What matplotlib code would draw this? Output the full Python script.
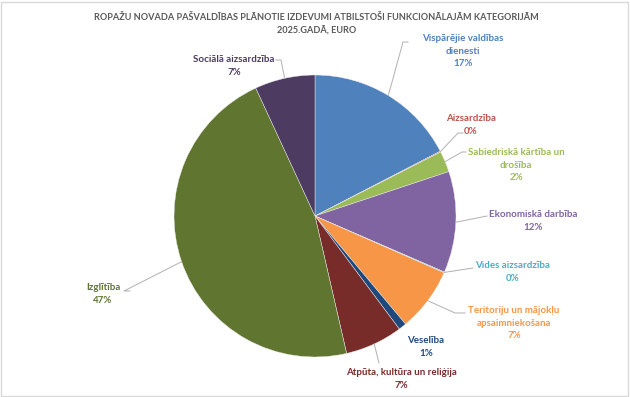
import matplotlib
matplotlib.use('Agg')
import matplotlib.pyplot as plt
from matplotlib.patches import Rectangle
import numpy as np

plt.rcParams['font.family'] = ['Lato', 'DejaVu Sans']

title = 'ROPAŽU NOVADA PAŠVALDĪBAS PLĀNOTIE IZDEVUMI ATBILSTOŠI FUNKCIONĀLAJĀM KATEGORIJĀM\n2025.GADĀ, EURO'

categories = ['Vispārējie valdības\ndienesti', 'Aizsardzība', 'Sabiedriskā kārtība un\ndrošība',
              'Ekonomiskā darbība', 'Vides aizsardzība', 'Teritoriju un mājokļu\napsaimniekošana',
              'Veselība', 'Atpūta, kultūra un reliģija', 'Izglītība', 'Sociālā aizsardzība']
# shares (percent of total)
shares = [17.4, 0.1, 2.4, 11.6, 0.1, 7.3, 0.9, 6.6, 46.7, 6.9]
pct_labels = ['17%', '0%', '2%', '12%', '0%', '7%', '1%', '7%', '47%', '7%']
colors = ['#4F81BD', '#C0504D', '#9BBB59', '#8064A2', '#4BACC6',
          '#F79646', '#1F497D', '#772C2A', '#5F7530', '#4D3B62']

W, H = 630, 397
fig = plt.figure(figsize=(W / 100, H / 100), dpi=100)
ax = fig.add_axes([0, 0, 1, 1])

cx, cy, r = 315, 216, 141


def py(y):
    return H - y


wedges, _ = ax.pie(shares, colors=colors, startangle=90, counterclock=False,
                   center=(cx, py(cy)), radius=r,
                   wedgeprops=dict(edgecolor='#F2F2F2', linewidth=0.3))
ax.set_xlim(0, W)
ax.set_ylim(0, H)
ax.set_aspect('equal')
ax.axis('off')

# label centre (px) and leader elbow points (px), None = no leader
label_pos = [(463, 51), (471, 125), (516, 165), (533, 221), (513, 272),
             (514, 323), (426, 347), (401, 379), (103, 294), (234, 66)]
leaders = [[(408, 42), (403, 42)], [(463, 133), (458, 133)], [(466, 152), (462, 152)],
           [(487, 216)], [(473, 268)], [(465, 313), (455, 313)], None,
           [(379, 363)], [(130, 291), (124, 291)], [(276, 60), (281, 60)]]

for w, lab, pct, col, pos, lead in zip(wedges, categories, pct_labels, colors, label_pos, leaders):
    ang = np.deg2rad((w.theta1 + w.theta2) / 2)
    ax.text(pos[0], py(pos[1]), lab + '\n' + pct, ha='center', va='center',
            color=col, fontsize=7, fontweight='bold', linespacing=1.5)
    if lead is not None:
        xs = [p[0] for p in lead] + [cx + r * np.cos(ang)]
        ys = [py(p[1]) for p in lead] + [py(cy) + r * np.sin(ang)]
        ax.plot(xs, ys, color='#B0B0B0', lw=0.7)

fig.text(0.502, 1 - 24 / H, title, ha='center', va='center', fontsize=6.6,
         fontweight='bold', color='#595959', linespacing=1.55)

fig.patches.append(Rectangle((0.002, 0.003), 0.995, 0.993, transform=fig.transFigure,
                             fill=False, edgecolor='#D9D9D9', lw=1))

fig.savefig('out.png', dpi=100)
